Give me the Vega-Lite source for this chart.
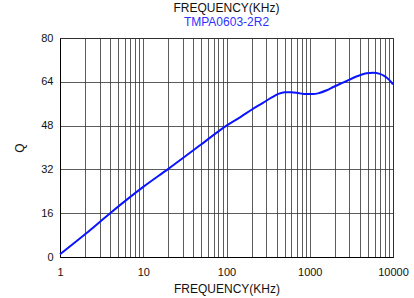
{
  "$schema": "https://vega.github.io/schema/vega-lite/v6.json",
  "autosize": "none",
  "width": 333,
  "height": 219,
  "padding": {"left": 60, "top": 38, "right": 21, "bottom": 41},
  "background": "white",
  "config": {
    "font": "Liberation Sans",
    "view": {"stroke": "#222", "strokeWidth": 1},
    "axis": {
      "labelFont": "Liberation Sans",
      "titleFont": "Liberation Sans",
      "labelFontSize": 11,
      "titleFontSize": 12,
      "labelColor": "#111",
      "titleColor": "#111",
      "titleFontWeight": "normal",
      "gridColor": "#333",
      "gridOpacity": 0.8,
      "gridWidth": 1,
      "domainColor": "#000",
      "ticks": false
    }
  },
  "title": {
    "text": "FREQUENCY(KHz)",
    "subtitle": "TMPA0603-2R2",
    "font": "Liberation Sans",
    "fontSize": 12,
    "fontWeight": "normal",
    "color": "#111",
    "subtitleFont": "Liberation Sans",
    "subtitleFontSize": 12,
    "subtitleColor": "#3030ff",
    "subtitlePadding": 2,
    "offset": 3,
    "anchor": "middle"
  },
  "data": {
    "values": [
      {"f": 1, "Q": 1},
      {"f": 2, "Q": 8.3},
      {"f": 4, "Q": 16},
      {"f": 10, "Q": 25.6},
      {"f": 20, "Q": 32.2},
      {"f": 50, "Q": 41.2},
      {"f": 100, "Q": 48},
      {"f": 150, "Q": 51.3},
      {"f": 200, "Q": 53.8},
      {"f": 274, "Q": 56.3},
      {"f": 350, "Q": 58.3},
      {"f": 420, "Q": 59.6},
      {"f": 500, "Q": 60.2},
      {"f": 600, "Q": 60.2},
      {"f": 750, "Q": 59.8},
      {"f": 900, "Q": 59.5},
      {"f": 1100, "Q": 59.5},
      {"f": 1300, "Q": 59.9},
      {"f": 1600, "Q": 60.9},
      {"f": 1920, "Q": 62.1},
      {"f": 2300, "Q": 63.2},
      {"f": 2780, "Q": 64.3},
      {"f": 3300, "Q": 65.4},
      {"f": 4016, "Q": 66.4},
      {"f": 4800, "Q": 67.1},
      {"f": 5800, "Q": 67.3},
      {"f": 6800, "Q": 67.0},
      {"f": 8000, "Q": 66.0},
      {"f": 9000, "Q": 64.7},
      {"f": 10000, "Q": 63.1}
    ]
  },
  "mark": {"type": "line", "color": "#0a14ff", "strokeWidth": 2, "interpolate": "monotone"},
  "encoding": {
    "x": {
      "field": "f",
      "type": "quantitative",
      "scale": {"type": "log", "domain": [1, 10000], "nice": false},
      "axis": {
        "title": "FREQUENCY(KHz)",
        "values": [1,2,3,4,5,6,7,8,9,10,20,30,40,50,60,70,80,90,100,200,300,400,500,600,700,800,900,1000,2000,3000,4000,5000,6000,7000,8000,9000,10000],
        "format": "d",
        "labelExpr": "indexof([1,10,100,1000,10000], datum.value) >= 0 ? datum.label : ''",
        "labelPadding": 9,
        "titlePadding": 6,
        "labelFlush": false,
        "labelOverlap": false
      }
    },
    "y": {
      "field": "Q",
      "type": "quantitative",
      "scale": {"domain": [0, 80], "nice": false},
      "axis": {
        "title": "Q",
        "values": [0, 16, 32, 48, 64, 80],
        "labelPadding": 7,
        "titlePadding": 14
      }
    }
  }
}
